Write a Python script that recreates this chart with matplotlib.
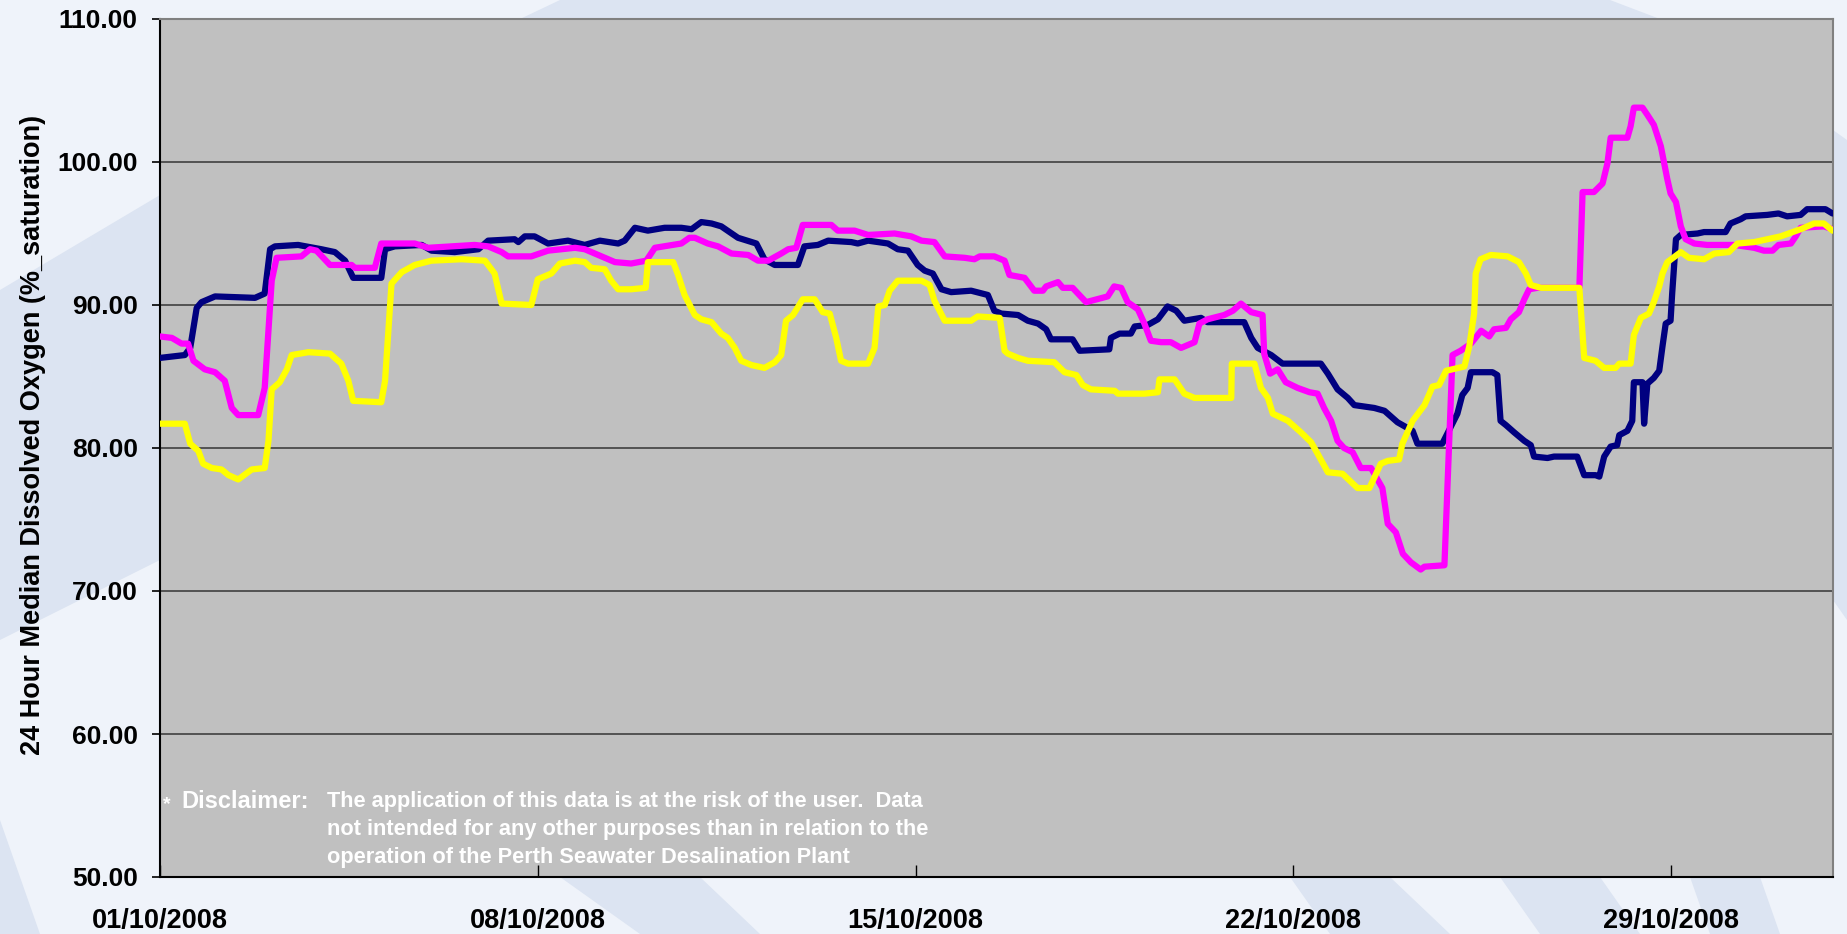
import matplotlib
matplotlib.use("Agg")
import matplotlib.pyplot as plt
from matplotlib.patches import Polygon

plt.rcParams['font.family'] = ['Liberation Sans', 'DejaVu Sans']

# x positions are days since 01/10/2008
tick_days = [0, 7, 14, 21, 28]
tick_labels = ["01/10/2008", "08/10/2008", "15/10/2008", "22/10/2008", "29/10/2008"]
y_ticks = [50, 60, 70, 80, 90, 100, 110]

navy_day = [0, 0.46, 0.56, 0.68, 0.77, 1.02, 1.76, 1.94, 2.04, 2.13,
            2.56, 2.99, 3.24, 3.43, 3.58, 4.10, 4.17, 4.35, 4.85, 5.03,
            5.46, 5.90, 6.08, 6.57, 6.64, 6.76, 6.94, 7.19, 7.56, 7.87,
            8.15, 8.49, 8.61, 8.80, 9.04, 9.35, 9.66, 9.85, 10.03, 10.22,
            10.40, 10.71, 11.05, 11.20, 11.39, 11.82, 11.94, 12.19, 12.38, 12.81,
            12.93, 13.12, 13.49, 13.67, 13.86, 14.04, 14.17, 14.32, 14.48, 14.66,
            15.03, 15.34, 15.46, 15.59, 15.90, 16.08, 16.27, 16.42, 16.51, 16.91,
            17.04, 17.59, 17.62, 17.78, 17.99, 18.06, 18.30, 18.49, 18.67, 18.83,
            18.98, 19.29, 19.41, 20.09, 20.22, 20.34, 20.59, 20.80, 21.51, 21.64,
            21.82, 22.01, 22.13, 22.50, 22.69, 22.93, 23.21, 23.30, 23.76, 23.92,
            24.04, 24.13, 24.23, 24.29, 24.69, 24.78, 24.84, 24.94, 25.09, 25.28,
            25.40, 25.46, 25.71, 25.83, 26.26, 26.39, 26.60, 26.67, 26.76, 26.88,
            27.00, 27.04, 27.19, 27.28, 27.31, 27.47, 27.50, 27.56, 27.68, 27.78,
            27.84, 27.90, 27.99, 28.02, 28.09, 28.18, 28.49, 28.61, 29.01, 29.10,
            29.29, 29.38, 29.78, 29.99, 30.15, 30.40, 30.52, 30.86, 30.99]
navy_val = [86.3, 86.5, 87.0, 89.8, 90.2, 90.6, 90.5, 90.8, 93.9, 94.1,
            94.2, 93.9, 93.7, 93.1, 91.9, 91.9, 93.9, 94.1, 94.2, 93.8,
            93.7, 93.9, 94.5, 94.6, 94.4, 94.8, 94.8, 94.3, 94.5, 94.2,
            94.5, 94.3, 94.5, 95.4, 95.2, 95.4, 95.4, 95.3, 95.8, 95.7,
            95.5, 94.7, 94.3, 93.2, 92.8, 92.8, 94.1, 94.2, 94.5, 94.4,
            94.3, 94.5, 94.3, 93.9, 93.8, 92.8, 92.4, 92.2, 91.1, 90.9,
            91.0, 90.7, 89.6, 89.4, 89.3, 88.9, 88.7, 88.3, 87.6, 87.6,
            86.8, 86.9, 87.7, 88.0, 88.0, 88.5, 88.6, 89.0, 89.9, 89.6,
            88.9, 89.1, 88.8, 88.8, 87.7, 87.0, 86.5, 85.9, 85.9, 85.2,
            84.1, 83.5, 83.0, 82.8, 82.6, 81.8, 81.2, 80.3, 80.3, 81.5,
            82.4, 83.7, 84.2, 85.3, 85.3, 85.1, 81.9, 81.6, 81.1, 80.5,
            80.2, 79.4, 79.3, 79.4, 79.4, 78.1, 78.1, 78.0, 79.4, 80.1,
            80.2, 80.9, 81.2, 81.9, 84.6, 84.6, 81.7, 84.5, 84.9, 85.4,
            87.1, 88.7, 88.9, 90.8, 94.6, 94.9, 95.0, 95.1, 95.1, 95.7,
            96.0, 96.2, 96.3, 96.4, 96.2, 96.3, 96.7, 96.7, 96.4]

magenta_day = [0, 0.22, 0.40, 0.52, 0.62, 0.83, 1.02, 1.20, 1.33, 1.45,
               1.82, 1.94, 2.07, 2.16, 2.62, 2.78, 2.90, 3.15, 3.55, 3.61,
               3.98, 4.10, 4.72, 4.97, 5.83, 6.08, 6.33, 6.45, 6.88, 7.19,
               7.69, 7.87, 8.12, 8.43, 8.73, 9.01, 9.17, 9.66, 9.81, 9.91,
               10.15, 10.34, 10.59, 10.90, 11.08, 11.27, 11.51, 11.64, 11.79, 11.91,
               12.44, 12.56, 12.87, 13.12, 13.61, 13.92, 14.11, 14.35, 14.54, 14.91,
               15.09, 15.19, 15.46, 15.65, 15.74, 16.02, 16.20, 16.36, 16.42, 16.64,
               16.73, 16.91, 17.16, 17.56, 17.68, 17.81, 17.93, 18.12, 18.24, 18.36,
               18.55, 18.73, 18.92, 19.17, 19.26, 19.41, 19.72, 19.88, 20.03, 20.22,
               20.43, 20.46, 20.57, 20.71, 20.86, 21.08, 21.30, 21.45, 21.57, 21.70,
               21.82, 21.94, 22.10, 22.25, 22.44, 22.65, 22.75, 22.90, 23.03, 23.18,
               23.36, 23.43, 23.80, 23.95, 24.10, 24.29, 24.48, 24.63, 24.72, 24.94,
               25.03, 25.18, 25.28, 25.37, 25.52, 26.30, 26.36, 26.57, 26.73, 26.82,
               26.88, 27.19, 27.25, 27.31, 27.47, 27.56, 27.68, 27.81, 27.93, 27.99,
               28.09, 28.18, 28.27, 28.43, 28.67, 29.17, 29.54, 29.72, 29.88, 29.99,
               30.22, 30.31, 30.40, 30.83, 30.99]
magenta_val = [87.8, 87.7, 87.3, 87.3, 86.1, 85.5, 85.3, 84.7, 82.8, 82.3,
               82.3, 84.2, 91.7, 93.3, 93.4, 93.9, 93.8, 92.8, 92.8, 92.6,
               92.6, 94.3, 94.3, 94.0, 94.2, 94.1, 93.7, 93.4, 93.4, 93.8,
               94.0, 93.9, 93.5, 93.0, 92.9, 93.1, 94.0, 94.3, 94.7, 94.7,
               94.3, 94.1, 93.6, 93.5, 93.1, 93.1, 93.6, 93.9, 94.0, 95.6,
               95.6, 95.2, 95.2, 94.9, 95.0, 94.8, 94.5, 94.4, 93.4, 93.3,
               93.2, 93.4, 93.4, 93.1, 92.1, 91.9, 91.0, 91.0, 91.3, 91.6,
               91.2, 91.2, 90.2, 90.6, 91.3, 91.2, 90.2, 89.7, 88.7, 87.5,
               87.4, 87.4, 87.0, 87.4, 88.7, 89.0, 89.3, 89.6, 90.1, 89.5,
               89.3, 86.6, 85.2, 85.5, 84.6, 84.2, 83.9, 83.8, 82.8, 81.9,
               80.5, 80.0, 79.7, 78.6, 78.6, 77.2, 74.7, 74.1, 72.6, 72.0,
               71.5, 71.7, 71.8, 86.5, 86.8, 87.3, 88.2, 87.8, 88.3, 88.4,
               89.0, 89.5, 90.4, 91.1, 91.2, 91.2, 97.9, 97.9, 98.5, 99.9,
               101.7, 101.7, 102.5, 103.8, 103.8, 103.3, 102.6, 101.1, 98.8, 97.8,
               97.2, 95.5, 94.6, 94.3, 94.2, 94.2, 94.0, 93.8, 93.8, 94.2,
               94.3, 94.8, 95.4, 95.5, 95.3]

yellow_day = [0, 0.46, 0.56, 0.71, 0.80, 0.96, 1.14, 1.27, 1.45, 1.70,
              1.94, 2.01, 2.07, 2.22, 2.35, 2.44, 2.75, 3.15, 3.36, 3.49,
              3.58, 4.10, 4.17, 4.29, 4.48, 4.72, 5.03, 5.59, 6.02, 6.20,
              6.33, 6.88, 7.00, 7.25, 7.41, 7.69, 7.87, 7.99, 8.24, 8.36,
              8.49, 8.73, 9.00, 9.04, 9.51, 9.60, 9.72, 9.91, 10.03, 10.22,
              10.40, 10.52, 10.65, 10.77, 10.96, 11.20, 11.39, 11.51, 11.60, 11.73,
              11.91, 12.13, 12.28, 12.41, 12.53, 12.62, 12.75, 13.12, 13.24, 13.31,
              13.43, 13.52, 13.67, 14.11, 14.26, 14.35, 14.54, 15.03, 15.15, 15.56,
              15.65, 15.71, 15.90, 16.08, 16.57, 16.76, 16.98, 17.10, 17.25, 17.69,
              17.75, 18.24, 18.49, 18.52, 18.80, 18.98, 19.17, 19.85, 19.86, 20.28,
              20.40, 20.53, 20.62, 20.90, 21.14, 21.33, 21.45, 21.64, 21.91, 22.19,
              22.41, 22.62, 22.75, 22.96, 23.02, 23.21, 23.43, 23.58, 23.70, 23.83,
              24.17, 24.26, 24.35, 24.38, 24.47, 24.66, 24.97, 25.18, 25.31, 25.40,
              25.59, 26.30, 26.39, 26.60, 26.76, 26.97, 27.04, 27.25, 27.31, 27.44,
              27.59, 27.68, 27.78, 27.84, 27.93, 28.18, 28.33, 28.61, 28.80, 29.07,
              29.23, 29.54, 30.03, 30.40, 30.65, 30.83, 30.99]
yellow_val = [81.7, 81.7, 80.3, 79.8, 78.9, 78.6, 78.5, 78.1, 77.8, 78.5,
              78.6, 80.5, 84.1, 84.6, 85.5, 86.5, 86.7, 86.6, 85.9, 84.7,
              83.3, 83.2, 84.7, 91.5, 92.3, 92.8, 93.1, 93.2, 93.1, 92.2,
              90.1, 90.0, 91.8, 92.2, 92.9, 93.1, 93.0, 92.6, 92.5, 91.7,
              91.1, 91.1, 91.2, 93.0, 93.0, 92.1, 90.7, 89.3, 89.0, 88.8,
              88.0, 87.7, 87.0, 86.1, 85.8, 85.6, 86.0, 86.5, 88.9, 89.3,
              90.4, 90.4, 89.5, 89.4, 87.7, 86.1, 85.9, 85.9, 87.0, 89.9,
              90.0, 91.0, 91.7, 91.7, 91.4, 90.3, 88.9, 88.9, 89.2, 89.1,
              86.8, 86.6, 86.3, 86.1, 86.0, 85.3, 85.1, 84.4, 84.1, 84.0,
              83.8, 83.8, 83.9, 84.8, 84.8, 83.8, 83.5, 83.5, 85.9, 85.9,
              84.2, 83.5, 82.4, 81.9, 81.1, 80.4, 79.6, 78.3, 78.2, 77.2,
              77.2, 78.9, 79.1, 79.2, 80.3, 81.9, 83.0, 84.3, 84.4, 85.4,
              85.7, 87.1, 89.4, 92.2, 93.2, 93.5, 93.4, 93.0, 92.2, 91.4,
              91.2, 91.2, 86.3, 86.1, 85.6, 85.6, 85.9, 85.9, 87.9, 89.1,
              89.4, 90.2, 91.3, 92.2, 93.0, 93.7, 93.3, 93.2, 93.6, 93.7,
              94.3, 94.4, 94.8, 95.3, 95.7, 95.7, 95.2]

W, H = 1847, 934
fig = plt.figure(figsize=(W / 100, H / 100), dpi=100, facecolor='#EFF3FA')


def px(points):
    # figure pixel coords (origin top-left) -> figure fraction
    return [(x / W, 1 - y / H) for x, y in points]


# light backdrop swooshes, kept behind the axes
swooshes = [
    [(0, 290), (160, 195), (160, 560), (0, 640)],
    [(0, 820), (40, 934), (0, 934)],
    [(560, 877), (700, 877), (760, 934), (640, 934)],
    [(1290, 877), (1390, 877), (1450, 934), (1330, 934)],
    [(1500, 877), (1600, 877), (1640, 934), (1540, 934)],
    [(1690, 877), (1760, 877), (1780, 934), (1710, 934)],
    [(560, 0), (1610, 0), (1660, 19), (520, 19)],
    [(1833, 130), (1847, 140), (1847, 620), (1833, 600)],
]
for pts in swooshes:
    fig.patches.append(Polygon(px(pts), closed=True, transform=fig.transFigure,
                               facecolor='#DCE4F2', edgecolor='none', zorder=-5))

ax = fig.add_axes([160 / W, 1 - 877 / H, (1833 - 160) / W, (877 - 19) / H])
ax.set_zorder(2)
ax.set_facecolor('#C0C0C0')

for y in y_ticks[1:-1]:
    ax.axhline(y, color='#404040', lw=1.2, zorder=1)

style = dict(lw=4.5, solid_joinstyle='round', solid_capstyle='round', zorder=3)
ax.plot(navy_day, navy_val, color='#000080', **style)
ax.plot(magenta_day, magenta_val, color='#FF00FF', **style)
ax.plot(yellow_day, yellow_val, color='#FFFF00', **style)

ax.set_xlim(0, 31)
ax.set_ylim(50, 110)
ax.set_yticks(y_ticks)
ax.set_yticklabels([f"{v:.2f}" for v in y_ticks], fontsize=19, fontweight='bold')
ax.set_xticks(tick_days)
ax.set_xticklabels(tick_labels, fontsize=19.5, fontweight='bold')
ax.tick_params(axis='y', direction='out', length=6, width=1.2, pad=10)
ax.tick_params(axis='x', direction='in', length=9, width=1.0, pad=22)

for side in ['left', 'bottom']:
    ax.spines[side].set_color('black')
    ax.spines[side].set_linewidth(1.5)
for side in ['top', 'right']:
    ax.spines[side].set_color('#808080')
    ax.spines[side].set_linewidth(1.5)

fig.text(33 / W, 1 - 435 / H, "24 Hour Median Dissolved Oxygen (%_saturation)",
         rotation=90, ha='center', va='center', fontsize=19.5, fontweight='bold',
         zorder=3)

disc = dict(color='white', fontweight='bold', va='center', fontsize=15.7, zorder=3)
fig.text(163 / W, 1 - 805 / H, "*", color='white', fontsize=14, fontweight='bold',
         va='center', zorder=3)
fig.text(181 / W, 1 - 801 / H, "Disclaimer:", **dict(disc, fontsize=17))
fig.text(327 / W, 1 - 801 / H, "The application of this data is at the risk of the user.  Data", **disc)
fig.text(327 / W, 1 - 829 / H, "not intended for any other purposes than in relation to the", **disc)
fig.text(327 / W, 1 - 858 / H, "operation of the Perth Seawater Desalination Plant", **disc)

fig.savefig("out.png", dpi=100, facecolor=fig.get_facecolor())
